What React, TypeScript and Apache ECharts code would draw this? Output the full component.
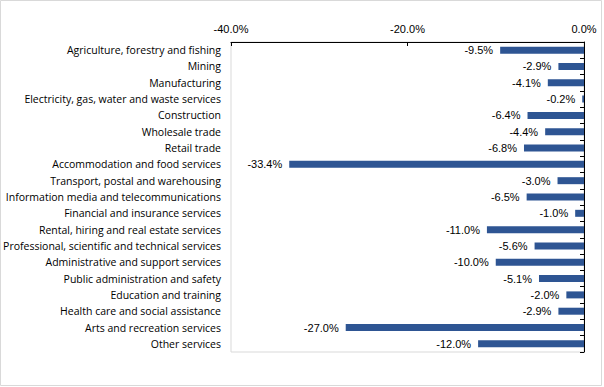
import React, { useEffect, useRef } from "react";
import * as echarts from "echarts";

const categories = [
  "Agriculture, forestry and fishing",
  "Mining",
  "Manufacturing",
  "Electricity, gas, water and waste services",
  "Construction",
  "Wholesale trade",
  "Retail trade",
  "Accommodation and food services",
  "Transport, postal and warehousing",
  "Information media and telecommunications",
  "Financial and insurance services",
  "Rental, hiring and real estate services",
  "Professional, scientific and technical services",
  "Administrative and support services",
  "Public administration and safety",
  "Education and training",
  "Health care and social assistance",
  "Arts and recreation services",
  "Other services",
];

const values = [
  -9.5, -2.9, -4.1, -0.2, -6.4, -4.4, -6.8, -33.4, -3.0, -6.5, -1.0, -11.0, -5.6, -10.0, -5.1, -2.0, -2.9, -27.0, -12.0,
];

const xMin = -40;
const xMax = 0;
const xInterval = 20;

export default function App() {
  const ref = useRef<HTMLDivElement>(null);
  useEffect(() => {
    if (!ref.current) return;
    const chart = echarts.init(ref.current, null, { renderer: "svg" });
    const pct = (v: number) => v.toFixed(1) + "%";
    chart.setOption({
      animation: false,
      backgroundColor: "#ffffff",
      graphic: [
        {
          type: "rect",
          shape: { x: 0.5, y: 0.5, width: 601, height: 385 },
          style: { fill: "none", stroke: "#d9d9d9", lineWidth: 1 },
          silent: true,
        },
      ],
      grid: {
        left: 231,
        right: 20,
        top: 42,
        bottom: 35,
        show: true,
        borderColor: "#d9d9d9",
        borderWidth: 1,
      },
      xAxis: {
        type: "value",
        position: "top",
        min: xMin,
        max: xMax,
        interval: xInterval,
        axisLine: { show: true, lineStyle: { color: "#000", width: 1 } },
        axisTick: { show: true, inside: true, length: 4, lineStyle: { color: "#000" } },
        splitLine: { show: false },
        axisLabel: {
          formatter: (v: number) => pct(v),
          color: "#000",
          fontFamily: "Liberation Sans, Arial",
          fontSize: 11,
          margin: 8,
        },
      },
      yAxis: [
        {
          type: "category",
          data: categories,
          inverse: true,
          position: "left",
          axisLine: { show: false },
          axisTick: { show: false },
          axisLabel: {
            color: "#000",
            fontFamily: "Open Sans",
            fontSize: 10.5,
            margin: 10,
          },
        },
        {
          type: "category",
          data: categories,
          inverse: true,
          position: "right",
          axisLine: { show: true, onZero: false, lineStyle: { color: "#000", width: 1 } },
          axisTick: { show: true, inside: true, length: 4, lineStyle: { color: "#000" } },
          axisLabel: { show: false },
        },
      ],
      series: [
        {
          type: "bar",
          data: values,
          yAxisIndex: 0,
          barWidth: 7,
          itemStyle: { color: "#2E5593" },
          label: {
            show: true,
            position: "left",
            distance: 7,
            formatter: (p: any) => pct(p.value),
            color: "#000",
            fontFamily: "Liberation Sans, Arial",
            fontSize: 11,
          },
        },
      ],
    });
    return () => chart.dispose();
  }, []);
  return (
    <div
      ref={ref}
      style={{ position: "fixed", left: 0, top: 0, width: 604, height: 387 }}
    />
  );
}
